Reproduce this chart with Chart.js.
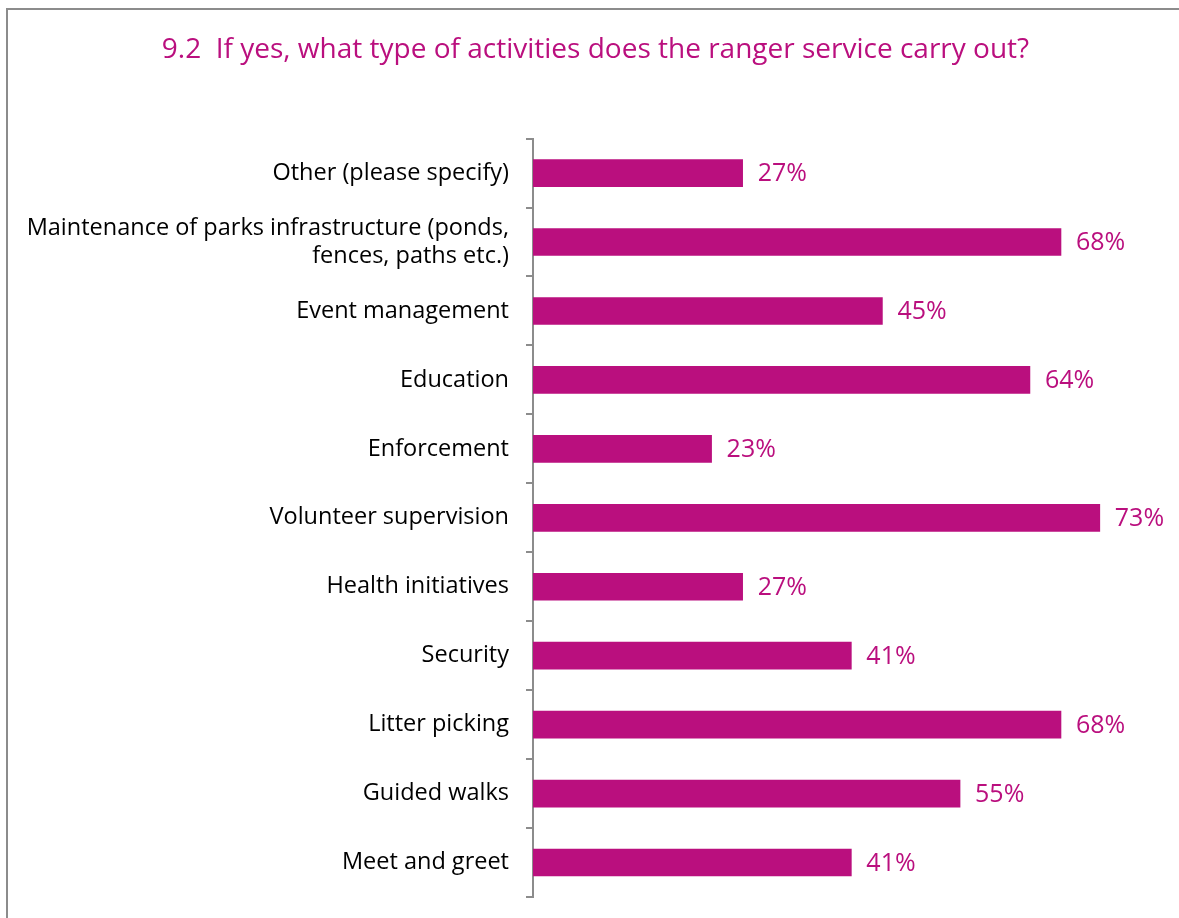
<!DOCTYPE html>
<html>
<head>
<meta charset="utf-8">
<script src="https://cdn.jsdelivr.net/npm/chart.js@4/dist/chart.umd.min.js"></script>
<style>
  html, body { margin: 0; padding: 0; background: #fff; }
  #wrap { width: 1179px; height: 918px; }
</style>
</head>
<body>
<div id="wrap"><canvas id="rangerChart" width="1179" height="918"></canvas></div>
<script>
const activities = [
    'Other (please specify)',
    ['Maintenance of parks infrastructure (ponds,', 'fences, paths etc.)'],
    'Event management',
    'Education',
    'Enforcement',
    'Volunteer supervision',
    'Health initiatives',
    'Security',
    'Litter picking',
    'Guided walks',
    'Meet and greet'
]
const percentages = [27, 68, 45, 64, 23, 73, 27, 41, 68, 55, 41]

const magenta = '#BA0F7E'
const fontFamily = '"Open Sans", "Noto Sans", sans-serif'

// frame lines along the left and top edges
const framePlugin = {
    id: 'frame',
    beforeDraw(chart) {
        const ctx = chart.ctx
        ctx.save()
        ctx.strokeStyle = '#8c8c8c'
        ctx.lineWidth = 2
        ctx.beginPath()
        ctx.moveTo(7, chart.height)
        ctx.lineTo(7, 9)
        ctx.lineTo(chart.width, 9)
        ctx.stroke()
        ctx.restore()
    }
}

// percentage text at the end of each bar
const valueLabels = {
    id: 'valueLabels',
    afterDatasetsDraw(chart) {
        const ctx = chart.ctx
        const meta = chart.getDatasetMeta(0)
        ctx.save()
        ctx.fillStyle = magenta
        ctx.font = '25px ' + fontFamily
        ctx.textAlign = 'left'
        ctx.textBaseline = 'middle'
        meta.data.forEach((bar, i) => {
            ctx.fillText(percentages[i] + '%', bar.x + 15, bar.y + 1)
        })
        ctx.restore()
    }
}

const data = {
    labels: activities,
    datasets: [{
        data: percentages,
        backgroundColor: magenta,
        borderWidth: 0,
        barThickness: 27
    }]
}

const options = {
    indexAxis: 'y',
    responsive: false,
    animation: false,
    layout: { padding: { left: 12, right: 0, top: 0, bottom: 21 } },
    plugins: {
        legend: { display: false },
        tooltip: { enabled: false },
        title: {
            display: true,
            text: '9.2  If yes, what type of activities does the ranger service carry out?',
            color: magenta,
            font: { family: fontFamily, size: 28, weight: 'normal' },
            padding: { top: 33, bottom: 72 }
        }
    },
    scales: {
        x: { display: false, min: 0, max: 83.2 },
        y: {
            afterFit: (scale) => {
                scale.width = 521
                scale.paddingTop = 0
                scale.paddingBottom = 0
            },
            border: { display: true, color: '#8c8c8c', width: 2 },
            grid: {
                offset: true,
                drawOnChartArea: false,
                drawTicks: true,
                tickLength: 7,
                color: '#8c8c8c',
                lineWidth: 2
            },
            ticks: {
                color: '#000',
                padding: 17,
                font: { family: fontFamily, size: 23.5 }
            }
        }
    }
}

new Chart('rangerChart', { type: 'bar', data, options, plugins: [framePlugin, valueLabels] })
</script>
</body>
</html>
